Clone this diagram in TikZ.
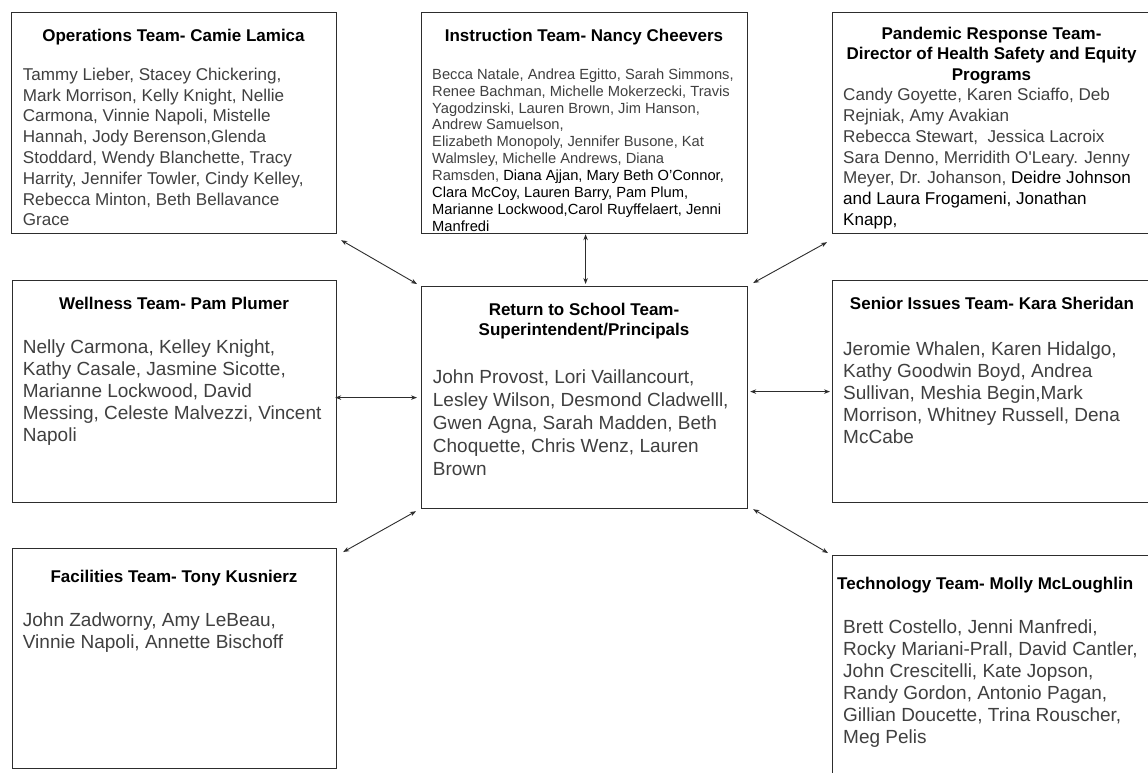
\documentclass[tikz,border=0pt]{standalone}
\usepackage{fontspec}
\setmainfont{Liberation Sans}
\usetikzlibrary{arrows.meta,calc}
\definecolor{bodygray}{RGB}{64,64,64}
\definecolor{linegray}{RGB}{45,45,45}
\newcommand{\st}{\rule{0pt}{15pt}}
\begin{document}
\begin{tikzpicture}[x=1pt,y=-1pt,
  box/.style={draw=linegray,line width=1.2pt,inner sep=0pt,anchor=north west},
  ttl/.style={font=\fontsize{17}{20.7}\selectfont\bfseries,text=black,align=center,inner sep=0pt,anchor=north},
  bodyA/.style={font=\fontsize{17.1}{20.8}\selectfont,text=bodygray,align=left,inner sep=0pt,anchor=north west},
  bodyB/.style={font=\fontsize{19}{22}\selectfont,text=bodygray,align=left,inner sep=0pt,anchor=north west},
  bodyC/.style={font=\fontsize{14.7}{16.9}\selectfont,text=bodygray,align=left,inner sep=0pt,anchor=north west},
  arr/.style={{Stealth[length=6pt,width=4.5pt]}-{Stealth[length=6pt,width=4.5pt]},line width=0.9pt,draw=linegray}]
\clip (0,0) rectangle (1148,772);
\fill[white] (0,0) rectangle (1148,772);
% boxes
\node[box,minimum width=325pt,minimum height=221pt] (ops) at (11,12) {};
\node[box,minimum width=326pt,minimum height=221pt] (instr) at (421,12) {};
\node[box,minimum width=319pt,minimum height=221pt] (pand) at (832,12) {};
\node[box,minimum width=324pt,minimum height=222pt] (well) at (12,280) {};
\node[box,minimum width=326pt,minimum height=222pt] (center) at (421,286) {};
\node[box,minimum width=319pt,minimum height=222pt] (senior) at (832,280) {};
\node[box,minimum width=324pt,minimum height=220pt] (fac) at (12,548) {};
\node[box,minimum width=319pt,minimum height=240pt] (tech) at (832,555) {};
% operations
\node[ttl] (opsT) at (173.5,26) {\st Operations Team- Camie Lamica};
\node[bodyA] (opsB) at (22.7,65) {\st Tammy Lieber, Stacey Chickering,\\
Mark Morrison, Kelly Knight, Nellie\\
Carmona, Vinnie Napoli, Mistelle\\
Hannah, Jody Berenson,Glenda\\
Stoddard, Wendy Blanchette, Tracy\\
Harrity, Jennifer Towler, Cindy Kelley,\\
Rebecca Minton, Beth Bellavance\\
Grace};
% instruction
\node[ttl] (instrT) at (584,26) {\st Instruction Team- Nancy Cheevers};
\node[bodyC] (instrB) at (432,64) {\st Becca Natale, Andrea Egitto, Sarah Simmons,\\
Renee Bachman, Michelle Mokerzecki, Travis\\
Yagodzinski, Lauren Brown, Jim Hanson,\\
Andrew Samuelson,\\
Elizabeth Monopoly, Jennifer Busone, Kat\\
Walmsley, Michelle Andrews, Diana\\
Ramsden, \textcolor{black}{Diana Ajjan, Mary Beth O’Connor,}\\
\textcolor{black}{Clara McCoy, Lauren Barry, Pam Plum,}\\
\textcolor{black}{Marianne Lockwood,Carol Ruyffelaert, Jenni}\\
\textcolor{black}{Manfredi}};
% pandemic
\node[ttl] (pandT) at (991.5,24) {\st Pandemic Response Team-\\Director of Health Safety and Equity\\Programs};
\node[bodyA] (pandB) at (843,85.5) {\st Candy Goyette, Karen Sciaffo, Deb\\
Rejniak, Amy Avakian\\
Rebecca Stewart, \ Jessica Lacroix\\
Sara Denno, Merridith O\textquotesingle Leary. Jenny\\
Meyer, Dr. Johanson, \textcolor{black}{Deidre Johnson}\\
\textcolor{black}{and Laura Frogameni, Jonathan}\\
\textcolor{black}{Knapp,}};
% wellness
\node[ttl] (wellT) at (174,294) {\st Wellness Team- Pam Plumer};
\node[bodyB] (wellB) at (22.7,338) {\st Nelly Carmona, Kelley Knight,\\
Kathy Casale, Jasmine Sicotte,\\
Marianne Lockwood, David\\
Messing, Celeste Malvezzi, Vincent\\
Napoli};
% center
\node[ttl] (centerT) at (584,300) {\st Return to School Team-\\Superintendent/Principals};
\node[bodyB,font=\fontsize{19}{23}\selectfont] (centerB) at (432.7,368) {\st John Provost, Lori Vaillancourt,\\
Lesley Wilson, Desmond Cladwelll,\\
Gwen Agna, Sarah Madden, Beth\\
Choquette, Chris Wenz, Lauren\\
Brown};
% senior
\node[ttl] (seniorT) at (992,294) {\st Senior Issues Team- Kara Sheridan};
\node[bodyB] (seniorB) at (843,340) {\st Jeromie Whalen, Karen Hidalgo,\\
Kathy Goodwin Boyd, Andrea\\
Sullivan, Meshia Begin,Mark\\
Morrison, Whitney Russell, Dena\\
McCabe};
% facilities
\node[ttl] (facT) at (174,567) {\st Facilities Team- Tony Kusnierz};
\node[bodyB] (facB) at (22.7,611) {\st John Zadworny, Amy LeBeau,\\
Vinnie Napoli, Annette Bischoff};
% technology
\node[ttl,anchor=north west] (techT) at (837,574) {\st Technology Team- Molly McLoughlin};
\node[bodyB] (techB) at (843,618) {\st Brett Costello, Jenni Manfredi,\\
Rocky Mariani-Prall, David Cantler,\\
John Crescitelli, Kate Jopson,\\
Randy Gordon, Antonio Pagan,\\
Gillian Doucette, Trina Rouscher,\\
Meg Pelis};
% connectors
\draw[arr] ($(ops.south east)+(4,6)$) -- ($(center.north west)+(-4,-2)$);
\draw[arr] ($(instr.south)+(1,0)$) -- ($(center.north)+(1,-2)$);
\draw[arr] ($(pand.south west)+(-5,8)$) -- ($(center.north east)+(5,-3)$);
\draw[arr] ($(center.west -| well.east)+(-2,0)$) -- ($(center.west)+(-4,0)$);
\draw[arr] ($(senior.west -| center.east)+(2,0)$) -- ($(senior.west)+(-2,0)$);
\draw[arr] ($(fac.north east)+(6,4)$) -- ($(center.south west)+(-5,2)$);
\draw[arr] ($(center.south east)+(5,0)$) -- ($(tech.north west)+(-4,-2)$);
\end{tikzpicture}
\end{document}
